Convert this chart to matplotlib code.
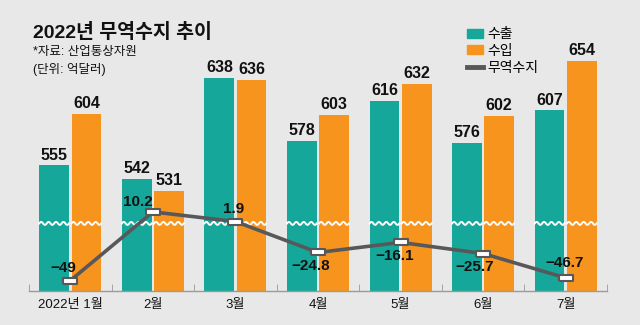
import numpy as np
import matplotlib
matplotlib.use("Agg")
import matplotlib.pyplot as plt
from matplotlib.patches import Patch
from matplotlib.lines import Line2D

# 데이터 (단위: 억달러)
months = ["2022년 1월", "2월", "3월", "4월", "5월", "6월", "7월"]
exports = [555, 542, 638, 578, 616, 576, 607]
imports = [604, 531, 636, 603, 632, 602, 654]
balance = [-49, 10.2, 1.9, -24.8, -16.1, -25.7, -46.7]

# 무역수지 라벨 위치 (포인트 단위 오프셋)
label_offsets = [(-5, 9), (-11, 7), (-1, 9), (-5, -10), (-4, -10), (-6, -10), (-1, 11)]

TEAL = "#15a89a"
ORANGE = "#f7941e"
GRAY = "#58585a"
BG = "#e8e8e9"
BREAK = 500  # 물결(생략) 표시 위치

num_font = ["Liberation Sans Narrow", "Liberation Sans", "Noto Sans CJK KR"]
txt_font = ["Liberation Sans", "Noto Sans CJK KR"]

fig = plt.figure(figsize=(6.4, 3.25), dpi=100, facecolor=BG)
ax = fig.add_axes([29 / 640, 34 / 325, 578 / 640, 281 / 325])
ax.set_facecolor(BG)

x = np.arange(len(months))
w = 0.36
off = 0.195
ax.bar(x - off, exports, w, color=TEAL, zorder=2)
ax.bar(x + off, imports, w, color=ORANGE, zorder=2)
ax.set_xlim(-0.5, len(months) - 0.5)
ax.set_ylim(436, 702)

# 막대 값
for i in range(len(months)):
    ax.annotate(str(exports[i]), (x[i] - off, exports[i]), xytext=(0, 2),
                textcoords="offset points", ha="center", va="bottom",
                fontsize=11.5, fontweight="bold", family=num_font, color="#111111")
    ax.annotate(str(imports[i]), (x[i] + off, imports[i]), xytext=(0, 2),
                textcoords="offset points", ha="center", va="bottom",
                fontsize=11.5, fontweight="bold", family=num_font, color="#111111")

# 물결 표시
for i in range(len(months)):
    for c in (x[i] - off, x[i] + off):
        xs = np.linspace(c - w / 2, c + w / 2, 60)
        ys = BREAK + 1.4 * np.sin((xs - xs[0]) / 0.09 * 2 * np.pi)
        ax.plot(xs, ys, color="white", lw=1.4, zorder=3)

# x축
for s in ["top", "right", "left"]:
    ax.spines[s].set_visible(False)
ax.spines["bottom"].set_color("#9a9a9a")
ax.spines["bottom"].set_linewidth(1)
ax.set_yticks([])
ax.set_xticks(x)
ax.set_xticklabels(months, fontsize=9.5, family=txt_font, color="#111111")
ax.tick_params(axis="x", which="major", length=0, pad=6)
ax.set_xticks(np.arange(-0.5, len(months)), minor=True)
ax.tick_params(axis="x", which="minor", direction="in", length=5, color="#9a9a9a")

# 무역수지 선
ax2 = ax.twinx()
ax2.set_ylim(-58, 184.3)
ax2.axis("off")
rect = [(-1, -0.45), (1, -0.45), (1, 0.45), (-1, 0.45), (-1, -0.45)]
ax2.plot(x, balance, color=GRAY, lw=2.6, marker=rect, markersize=10,
         markerfacecolor="white", markeredgecolor=GRAY, markeredgewidth=1.5, zorder=4)
for i, v in enumerate(balance):
    txt = f"{v:g}".replace("-", "\u2212")
    ax2.annotate(txt, (x[i], v), xytext=label_offsets[i], textcoords="offset points",
                 ha="center", va="center", fontsize=11, fontweight="bold",
                 family=num_font, color="#111111")

# 제목
fig.text(33 / 640, 1 - 33 / 325, "2022년 무역수지 추이", fontsize=14, fontweight="bold",
         family=txt_font, va="center", ha="left", color="#111111")
fig.text(33 / 640, 1 - 52 / 325, "*자료: 산업통상자원", fontsize=9, family=txt_font,
         va="center", ha="left", color="#111111")
fig.text(33 / 640, 1 - 70 / 325, "(단위: 억달러)", fontsize=9, family=txt_font,
         va="center", ha="left", color="#111111")

# 범례
handles = [Patch(color=TEAL), Patch(color=ORANGE),
           Line2D([0], [0], color=GRAY, lw=3.5)]
leg = fig.legend(handles, ["수출", "수입", "무역수지"], loc="upper left",
                 bbox_to_anchor=(467 / 640, 1 - 27 / 325), frameon=False,
                 prop={"family": txt_font, "size": 10}, handlelength=1.15,
                 handleheight=0.6, handletextpad=0.35, labelspacing=0.2,
                 borderpad=0, borderaxespad=0)

fig.savefig("out.png", dpi=100, facecolor=BG)
